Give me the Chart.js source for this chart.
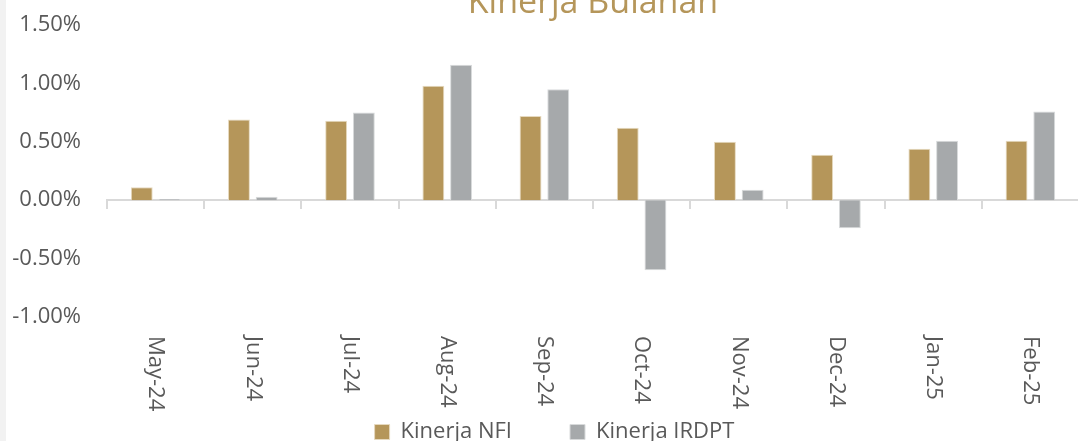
<!DOCTYPE html>
<html>
<head>
<meta charset="utf-8">
<script src="https://cdn.jsdelivr.net/npm/chart.js@4.4.1/dist/chart.umd.min.js"></script>
<style>
  html, body { margin: 0; padding: 0; background: #fff; overflow: hidden; width: 1078px; height: 441px; }
  #strip { position: absolute; left: 0; top: 0; width: 6px; height: 441px; background: #f2f2f2; z-index: 2; }
  #wrap { position: absolute; left: 0; top: -20px; width: 1100px; height: 473px; }
</style>
</head>
<body>
<div id="strip"></div>
<div id="wrap"><canvas id="chart" width="1100" height="473"></canvas></div>
<script>
// monthly performance, in percent
const months = ['May-24', 'Jun-24', 'Jul-24', 'Aug-24', 'Sep-24', 'Oct-24', 'Nov-24', 'Dec-24', 'Jan-25', 'Feb-25'];
const kinerjaNFI = [0.11, 0.69, 0.68, 0.98, 0.72, 0.62, 0.50, 0.39, 0.44, 0.51];
const kinerjaIRDPT = [0.01, 0.03, 0.75, 1.16, 0.95, -0.60, 0.09, -0.24, 0.51, 0.76];
const yTicks = [-1.0, -0.5, 0.0, 0.5, 1.0, 1.5];

const gold = '#b5965a';
const grey = '#a6a9ab';
const textGrey = '#595959';

Chart.defaults.font.family = "'Open Sans', sans-serif";
Chart.defaults.color = textGrey;

// Excel style category labels: rotated clockwise, sitting below the plot
const monthLabels = {
  id: 'monthLabels',
  afterDraw(chart) {
    const { ctx, chartArea, scales } = chart;
    const x = scales.x;
    ctx.save();
    ctx.font = "22px 'Open Sans', sans-serif";
    ctx.fillStyle = textGrey;
    ctx.textAlign = 'left';
    ctx.textBaseline = 'middle';
    months.forEach((m, i) => {
      ctx.save();
      ctx.translate(x.getPixelForValue(i), chartArea.bottom + 19);
      ctx.rotate(Math.PI / 2);
      ctx.fillText(m, 0, 0);
      ctx.restore();
    });
    ctx.restore();
  }
};

new Chart(document.getElementById('chart'), {
  type: 'bar',
  data: {
    labels: months,
    datasets: [
      {
        label: 'Kinerja NFI',
        data: kinerjaNFI,
        backgroundColor: gold,
        borderColor: '#e6d9bf',
        borderWidth: 1
      },
      {
        label: 'Kinerja IRDPT',
        data: kinerjaIRDPT,
        backgroundColor: grey,
        borderColor: '#d8dadb',
        borderWidth: 1
      }
    ]
  },
  options: {
    responsive: false,
    animation: false,
    devicePixelRatio: 1,
    categoryPercentage: 0.57,
    barPercentage: 0.79,
    layout: { padding: { left: 9, right: 0, top: 0, bottom: 0 } },
    plugins: {
      title: {
        display: true,
        text: 'Kinerja Bulanan',
        color: gold,
        fullSize: false,
        font: { size: 34, weight: 'normal', lineHeight: 1.2 },
        padding: { top: 2.9, bottom: 1.3 }
      },
      legend: {
        position: 'bottom',
        labels: {
          boxWidth: 15,
          boxHeight: 15,
          padding: 58,
          color: textGrey,
          font: { size: 22 }
        }
      },
      tooltip: { enabled: false }
    },
    scales: {
      x: {
        position: { y: 0 },
        ticks: { display: false },
        border: { display: true, color: '#d9d9d9', width: 2 },
        grid: {
          drawOnChartArea: false,
          drawTicks: true,
          tickLength: 8,
          color: '#d9d9d9',
          lineWidth: 2,
          offset: true
        }
      },
      xSpace: {
        type: 'category',
        labels: months,
        position: 'bottom',
        ticks: { display: false },
        grid: { display: false },
        border: { display: false },
        afterFit: s => { s.height = 46; }
      },
      y: {
        min: yTicks[0],
        max: yTicks[yTicks.length - 1],
        afterBuildTicks: s => { s.ticks = yTicks.map(v => ({ value: v })); },
        afterFit: s => { s.width = 98; },
        grid: { display: false, drawTicks: false },
        border: { display: false },
        ticks: {
          padding: 26,
          font: { size: 22 },
          color: textGrey,
          callback: v => v.toFixed(2) + '%'
        }
      },
      yRight: {
        type: 'linear',
        position: 'right',
        display: true,
        ticks: { display: false },
        grid: { display: false },
        border: { display: false },
        afterFit: s => { s.width = 21; }
      }
    }
  },
  plugins: [monthLabels]
});
</script>
</body>
</html>
